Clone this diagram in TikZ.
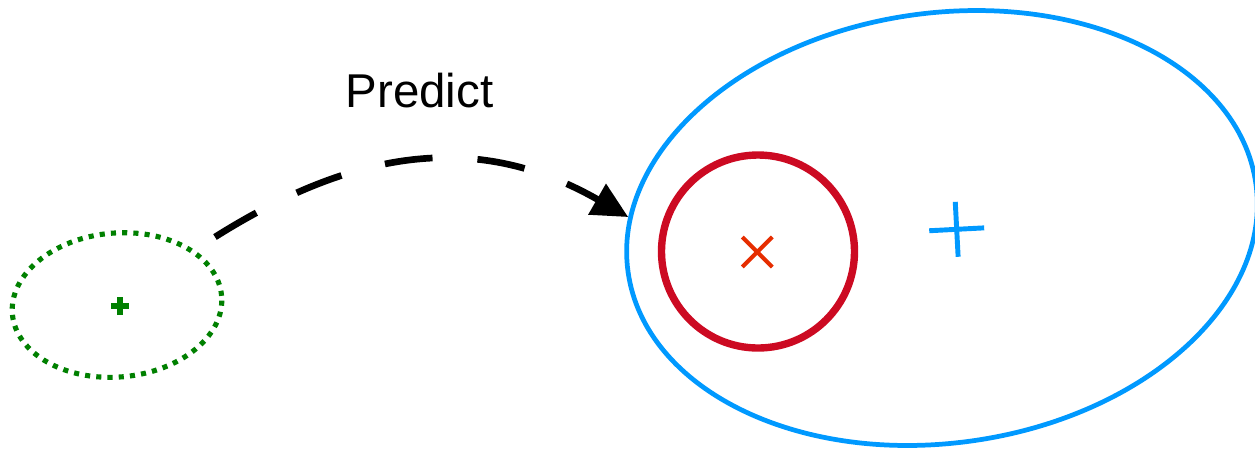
\documentclass[tikz,border=0pt]{standalone}
\usepackage{fontspec}
\setmainfont{Liberation Sans}
\usepackage{xcolor}
\usepackage{tikz}
\usetikzlibrary{arrows.meta,shapes.geometric,calc}
\definecolor{priorgreen}{RGB}{0,128,0}
\definecolor{trackblue}{RGB}{0,153,255}
\definecolor{gatered}{RGB}{204,10,34}
\definecolor{meanred}{RGB}{230,45,0}

\begin{document}
\begin{tikzpicture}[
    >=Latex,
    prior/.style={ellipse, draw=priorgreen, line width=1.45pt, dash pattern=on 1.45pt off 1.75pt, inner sep=0pt, minimum width=2.1cm, minimum height=1.44cm, rotate=5},
    track/.style={ellipse, draw=trackblue, line width=1.35pt, inner sep=0pt, minimum width=6.34cm, minimum height=4.3cm, rotate=8},
    gate/.style={circle, draw=gatered, line width=2.1pt, inner sep=0pt, minimum size=1.93cm},
    predict/.style={-{Triangle[length=3.6mm,width=3.4mm]}, line width=1.9pt, dash pattern=on 4.8mm off 4.5mm},
    label/.style={font=\fontsize{13.5}{16}\selectfont, anchor=base}
]
\useasboundingbox (0,0) rectangle (12.55,4.49);
\node[prior] (prev) at (1.17,1.44) {};
\node[track] (cur) at (9.42,2.21) {};
\node[gate] (meas) at (7.58,1.975) {};
\coordinate (prevc) at (1.20,1.43);
\coordinate (measc) at (7.573,1.97);
\coordinate (curc) at (9.567,2.197);
\coordinate (launch) at ($(prev.center)+(0.98,0.68)$);
% markers
\draw[priorgreen, line width=1.45pt] ($(prevc)+(-0.09,0)$) -- ($(prevc)+(0.09,0)$);
\draw[priorgreen, line width=1.45pt] ($(prevc)+(0,-0.09)$) -- ($(prevc)+(0,0.09)$);
\draw[meanred, line width=1.15pt] ($(measc)+(-0.15,-0.15)$) -- ($(measc)+(0.15,0.15)$);
\draw[meanred, line width=1.15pt] ($(measc)+(-0.15,0.15)$) -- ($(measc)+(0.15,-0.15)$);
\draw[trackblue, line width=1.4pt, rotate around={3:(curc)}] ($(curc)+(-0.275,0)$) -- ($(curc)+(0.275,0)$);
\draw[trackblue, line width=1.4pt, rotate around={3:(curc)}] ($(curc)+(0,-0.275)$) -- ($(curc)+(0,0.275)$);
% prediction step
\draw[predict] (launch) .. controls (3.58,3.02) and (4.80,3.17) .. (cur.170);
\node[label] (step) at (4.195,3.42) {Predict};
\end{tikzpicture}
\end{document}
